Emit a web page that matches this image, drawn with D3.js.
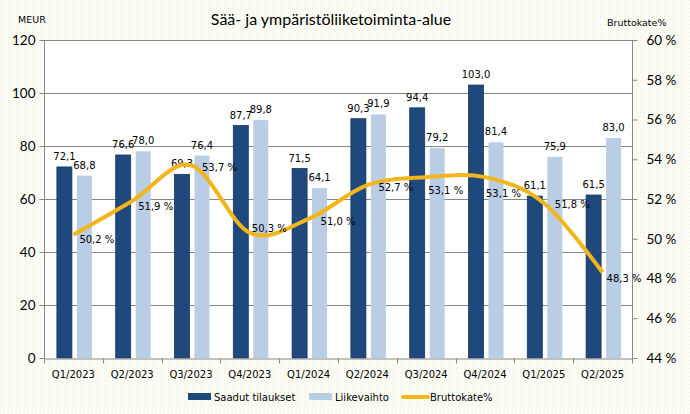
<!DOCTYPE html>
<html>
<head>
<meta charset="utf-8">
<script src="https://cdn.jsdelivr.net/npm/d3@7"></script>
<style>
  body { margin: 0; padding: 0; background: #fff; }
  svg { display: block; }
</style>
</head>
<body>
<svg id="chart" width="690" height="414"></svg>
<script>
// Data
const quarters = ["Q1/2023", "Q2/2023", "Q3/2023", "Q4/2023", "Q1/2024",
                  "Q2/2024", "Q3/2024", "Q4/2024", "Q1/2025", "Q2/2025"];
const orders = [72.1, 76.6, 69.3, 87.7, 71.5, 90.3, 94.4, 103.0, 61.1, 61.5];   // Saadut tilaukset
const revenue = [68.8, 78.0, 76.4, 89.8, 64.1, 91.9, 79.2, 81.4, 75.9, 83.0];  // Liikevaihto
const margin = [50.2, 51.9, 53.7, 50.3, 51.0, 52.7, 53.1, 53.1, 51.8, 48.3];   // Bruttokate%
const leftTicks = [0, 20, 40, 60, 80, 100, 120];
const rightTicks = [44, 46, 48, 50, 52, 54, 56, 58, 60];

// label nudges for the % labels (moved by hand in the original)
const pctNudge = [[6, 4], [6, 5], [11, 2], [2, -5], [12, 2], [11, 2], [2, 13], [1, 16], [11, 1], [4, 5]];

const seriesNames = ["Saadut tilaukset", "Liikevaihto"];
const colors = { orders: "#1F497D", revenue: "#B9CDE5", line: "#F2B51B", grid: "#868686" };

const fmt = d => d3.format(".1f")(d).replace(".", ",");

const svg = d3.select("#chart");

// dotted cream background
const defs = svg.append("defs");
const pat = defs.append("pattern")
    .attr("id", "dots")
    .attr("width", 4).attr("height", 4)
    .attr("patternUnits", "userSpaceOnUse");
pat.append("rect").attr("width", 4).attr("height", 4).attr("fill", "#fefef8");
pat.append("rect").attr("x", 0).attr("y", 0).attr("width", 1).attr("height", 1).attr("fill", "#f0eed0");
pat.append("rect").attr("x", 2).attr("y", 2).attr("width", 1).attr("height", 1).attr("fill", "#f4f2de");

svg.append("rect").attr("width", 690).attr("height", 414).attr("fill", "url(#dots)");

// plot area
const plot = { left: 44, right: 632, top: 40, bottom: 358 };

svg.append("rect")
    .attr("x", plot.left).attr("y", plot.top)
    .attr("width", plot.right - plot.left).attr("height", plot.bottom - plot.top)
    .attr("fill", "#fff");

// scales
const x0 = d3.scaleBand().domain(quarters).range([plot.left, plot.right]).padding(0);
const groupW = 35;
const x1 = d3.scaleBand().domain(["orders", "revenue"]).range([0, groupW]).paddingInner(0.25);
const yL = d3.scaleLinear().domain([0, 120]).range([plot.bottom, plot.top]);
const yR = d3.scaleLinear().domain([44, 60]).range([plot.bottom, plot.top]);
const groupOffset = (x0.bandwidth() - groupW) / 2 + 1;

// gridlines
svg.append("g")
    .selectAll("line")
    .data(leftTicks.slice(1))
    .enter().append("line")
    .attr("x1", plot.left).attr("x2", plot.right)
    .attr("y1", d => Math.round(yL(d)) + 0.5).attr("y2", d => Math.round(yL(d)) + 0.5)
    .attr("stroke", colors.grid)
    .attr("stroke-width", 1);

// bars
const rows = quarters.map((q, i) => ({ q, orders: orders[i], revenue: revenue[i] }));

const groups = svg.append("g")
    .selectAll("g")
    .data(rows)
    .enter().append("g")
    .attr("transform", d => `translate(${x0(d.q) + groupOffset},0)`);

["orders", "revenue"].forEach(key => {
    groups.append("rect")
        .attr("x", x1(key))
        .attr("y", d => yL(d[key]))
        .attr("width", x1.bandwidth())
        .attr("height", d => yL(0) - yL(d[key]))
        .attr("fill", colors[key])
        .attr("stroke", key === "orders" ? "#17375E" : "none")
        .attr("stroke-width", 0.8);

    groups.append("text")
        .attr("x", x1(key) + x1.bandwidth() / 2)
        .attr("y", d => yL(d[key]) - 7)
        .attr("text-anchor", "middle")
        .style("font-family", "DejaVu Sans")
        .style("font-size", "10px")
        .style("fill", "#000")
        .text(d => fmt(d[key]));
});

// axes
const axisColor = "#868686";

const leftAxis = svg.append("g")
    .attr("transform", `translate(${plot.left + 0.5},0)`)
    .call(d3.axisLeft(yL).tickValues(leftTicks).tickSize(5).tickPadding(4).tickFormat(d3.format("d")));

const rightAxis = svg.append("g")
    .attr("transform", `translate(${plot.right + 0.5},0)`)
    .call(d3.axisRight(yR).tickValues(rightTicks).tickSize(5).tickPadding(9).tickFormat(d => d + " %"));

const bottomAxis = svg.append("g")
    .attr("transform", `translate(0,${plot.bottom + 0.5})`)
    .call(d3.axisBottom(x0).tickSize(0).tickPadding(12));

// category boundary ticks on the x axis
bottomAxis.selectAll(".boundary")
    .data(quarters.concat(["end"]))
    .enter().append("line")
    .attr("class", "boundary")
    .attr("x1", (d, i) => Math.round(plot.left + i * x0.step()) + 0.5)
    .attr("x2", (d, i) => Math.round(plot.left + i * x0.step()) + 0.5)
    .attr("y1", 0).attr("y2", 5)
    .attr("stroke", axisColor);

[leftAxis, rightAxis, bottomAxis].forEach(a => {
    a.select(".domain").attr("stroke", axisColor);
    a.selectAll(".tick line").attr("stroke", axisColor);
});
leftAxis.select(".domain").attr("d", `M0,${plot.top}V${plot.bottom}`);
rightAxis.select(".domain").attr("d", `M0,${plot.top}V${plot.bottom}`);

leftAxis.selectAll("text")
    .style("font-family", "Lato")
    .style("font-size", "13.5px")
    .style("fill", "#000");
rightAxis.selectAll("text")
    .style("font-family", "Lato")
    .style("font-size", "13.5px")
    .style("fill", "#000");
bottomAxis.selectAll("text")
    .style("font-family", "DejaVu Sans")
    .style("font-size", "10px")
    .style("fill", "#000");

// Bruttokate% line
const line = d3.line()
    .x((d, i) => x0(quarters[i]) + x0.bandwidth() / 2)
    .y(d => yR(d))
    .curve(d3.curveCatmullRom.alpha(0));

svg.append("path")
    .datum(margin)
    .attr("d", line)
    .attr("fill", "none")
    .attr("stroke", colors.line)
    .attr("stroke-width", 4)
    .attr("stroke-linecap", "butt");

svg.append("g")
    .selectAll("text")
    .data(margin)
    .enter().append("text")
    .attr("x", (d, i) => x0(quarters[i]) + x0.bandwidth() / 2 + pctNudge[i][0])
    .attr("y", (d, i) => yR(d) + pctNudge[i][1] + 4)
    .style("font-family", "DejaVu Sans")
    .style("font-size", "10px")
    .style("fill", "#000")
    .text(d => fmt(d) + " %");

// title and axis titles
svg.append("text")
    .attr("x", 331)
    .attr("y", 25)
    .attr("text-anchor", "middle")
    .style("font-family", "Lato")
    .style("font-size", "16px")
    .style("fill", "#000")
    .text("Sää- ja ympäristöliiketoiminta-alue");

svg.append("text")
    .attr("x", 18)
    .attr("y", 23)
    .style("font-family", "DejaVu Sans")
    .style("font-size", "9.5px")
    .style("fill", "#000")
    .text("MEUR");

svg.append("text")
    .attr("x", 607)
    .attr("y", 26)
    .style("font-family", "DejaVu Sans")
    .style("font-size", "9.5px")
    .style("fill", "#000")
    .text("Bruttokate%");

// legend
const legend = svg.append("g").attr("transform", "translate(0,397)");
const legendItems = [
    { name: seriesNames[0], x: 188, type: "bar", color: colors.orders },
    { name: seriesNames[1], x: 309, type: "bar", color: colors.revenue },
    { name: "Bruttokate%", x: 403, type: "line", color: colors.line }
];
legendItems.forEach(it => {
    if (it.type === "bar") {
        legend.append("rect")
            .attr("x", it.x).attr("y", -4)
            .attr("width", 23).attr("height", 7)
            .attr("fill", it.color);
    } else {
        legend.append("line")
            .attr("x1", it.x).attr("x2", it.x + 25)
            .attr("y1", 0).attr("y2", 0)
            .attr("stroke", it.color)
            .attr("stroke-width", 4)
            .attr("stroke-linecap", "round");
    }
    legend.append("text")
        .attr("x", it.x + (it.type === "bar" ? 26 : 27))
        .attr("y", 4)
        .style("font-family", "DejaVu Sans")
        .style("font-size", "10px")
        .style("fill", "#000")
        .text(it.name);
});
</script>
</body>
</html>
